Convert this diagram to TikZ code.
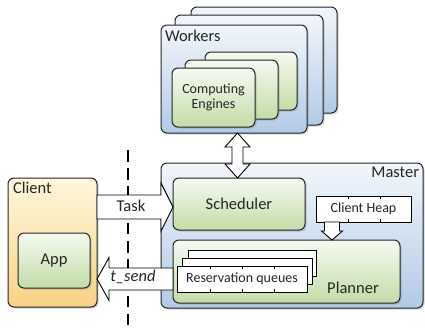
\documentclass[tikz,border=0pt]{standalone}
\usepackage{fontspec}
\setmainfont{Carlito}
\usetikzlibrary{shadows,calc}
\definecolor{bluetop}{HTML}{F2F6FB}
\definecolor{bluebot}{HTML}{B2CAE6}
\definecolor{greentop}{HTML}{F6FAF1}
\definecolor{greenbot}{HTML}{C2DCA8}
\definecolor{orangetop}{HTML}{FFF7DE}
\definecolor{orangebot}{HTML}{F7D284}
\begin{document}
\begin{tikzpicture}[x=1pt,y=-1pt,
 every node/.style={inner sep=0pt, outer sep=0pt},
 rbox/.style={draw=black!85, line width=1pt, rounded corners=6pt, anchor=north west,
   drop shadow={shadow xshift=1.5pt, shadow yshift=-1.5pt, opacity=0.35}},
 bluebox/.style={rbox, top color=bluetop, bottom color=bluebot},
 greenbox/.style={rbox, top color=greentop, bottom color=greenbot},
 clientbox/.style={rbox, top color=orangetop, bottom color=orangebot},
 sqbox/.style={draw=black, line width=0.9pt, fill=white, anchor=north west},
 blockarrow/.style={draw=black, line width=0.9pt, fill=white, line join=miter},
 tick/.style={draw=black, line width=0.8pt},
 big/.style={font=\fontsize{16.5}{18}\selectfont, text=black!85},
 small/.style={font=\fontsize{14}{15.5}\selectfont, text=black!85, align=center}
]
\useasboundingbox (0,0) rectangle (425,330);

% Workers stack
\node[bluebox, minimum width=146, minimum height=106] (wb) at (191,7) {};
\node[bluebox, minimum width=148, minimum height=110] (wm) at (175,15) {};
\node[bluebox, minimum width=146, minimum height=108] (wf) at (161,25) {};
\node[big, anchor=north west] (wlbl) at (165,30) {Workers};
% Computing engines
\node[greenbox, minimum width=92, minimum height=58] (cb) at (205,52) {};
\node[greenbox, minimum width=93, minimum height=59] (cm) at (185,60) {};
\node[greenbox, minimum width=83, minimum height=59] (cf) at (172,68) {};
\node[small] (celbl) at (cf.center) {Computing\\[-1pt]Engines};

% Client
\node[clientbox, minimum width=89, minimum height=129] (client) at (8,178) {};
\node[big, anchor=north west] (clbl) at (13,182) {Client};
\node[greenbox, minimum width=72, minimum height=55] (app) at (18,233) {};
\node[big] (applbl) at (app.center) {App};

% Master
\node[bluebox, minimum width=262, minimum height=145] (master) at (161,163) {};
\node[big, anchor=north east] (mlbl) at (419,167) {Master};
\node[greenbox, minimum width=132, minimum height=52] (sched) at (173,178) {};
\node[big] (schlbl) at (sched.center) {Scheduler};
\node[greenbox, minimum width=227, minimum height=63] (plan) at (173,240) {};
\node[big] (planlbl) at (353,288) {Planner};

% Client heap
\node[sqbox, minimum width=95, minimum height=26] (heap) at (316,196) {};
\node[small] (heaplbl) at (heap.center) {Client Heap};
\foreach \xx in {348,380}{
  \draw[tick] (\xx,0 |- heap.north) -- ++(0,3);
  \draw[tick] (\xx,0 |- heap.south) -- ++(0,-3);
}

% Reservation queues
\node[sqbox, minimum width=128, minimum height=26] (rqb) at (188,250) {};
\node[sqbox, minimum width=130, minimum height=26] (rqm) at (182,258) {};
\node[sqbox, minimum width=130, minimum height=26] (rqf) at (177,266) {};
\node[small] (rqlbl) at (rqf.center) {Reservation queues};
\foreach \xx in {210,242,274}{
  \draw[tick] (\xx,0 |- rqf.north) -- ++(0,3);
  \draw[tick] (\xx,0 |- rqf.south) -- ++(0,-3);
}

% dashed separator (behind the block arrows)
\coordinate (dtop) at (128,150);
\coordinate (dbot) at (128,330);
\draw[line width=1.1pt, dash pattern=on 11.5pt off 6.7pt] (dtop) -- (dbot);

% Double arrow workers <-> scheduler
\path (237.5,0 |- wf.south) coordinate (da1) (237.5,0 |- sched.north) coordinate (da2);
\draw[blockarrow] (da1) -- ++(12.5,14) -- ++(-7,0) -- ($(da2)+(5.5,-14)$) -- ++(7,0) -- (da2)
  -- ++(-12.5,-14) -- ++(7,0) -- ($(da1)+(-5.5,14)$) -- ++(-7,0) -- cycle;

% Heap -> planner arrow
\path (332,0 |- heap.south) coordinate (ha1) (332,0 |- plan.north) coordinate (ha2);
\draw[blockarrow] ($(ha1)+(-7.5,0)$) -- ($(ha2)+(-7.5,-9)$) -- ++(-3,0) -- (ha2) -- ++(10.5,-9)
  -- ++(-3,0) -- ($(ha1)+(7.5,0)$) -- cycle;

% Task arrow
\path (client.east |- 0,207) coordinate (tt) (sched.west |- 0,207) coordinate (th);
\draw[blockarrow] ($(tt)+(0,-12)$) -- ($(th)+(-12,-12)$) -- ++(0,-12) -- (th) -- ++(-12,24)
  -- ++(0,-12) -- ($(tt)+(0,12)$) -- cycle;
\node[big] (tasklbl) at (131,206) {Task};

% t_send arrow
\path (plan.west |- 0,279) coordinate (st) (client.east |- 0,279) coordinate (sh);
\draw[blockarrow] ($(st)+(0,-11)$) -- ($(sh)+(12,-11)$) -- ++(0,-10.5) -- (sh) -- ++(12,21.5)
  -- ++(0,-10.5) -- ($(st)+(0,11)$) -- cycle;
\node[big, font=\fontsize{16.5}{18}\selectfont\itshape] (tslbl) at (133,277) {t\_send};
\end{tikzpicture}
\end{document}
